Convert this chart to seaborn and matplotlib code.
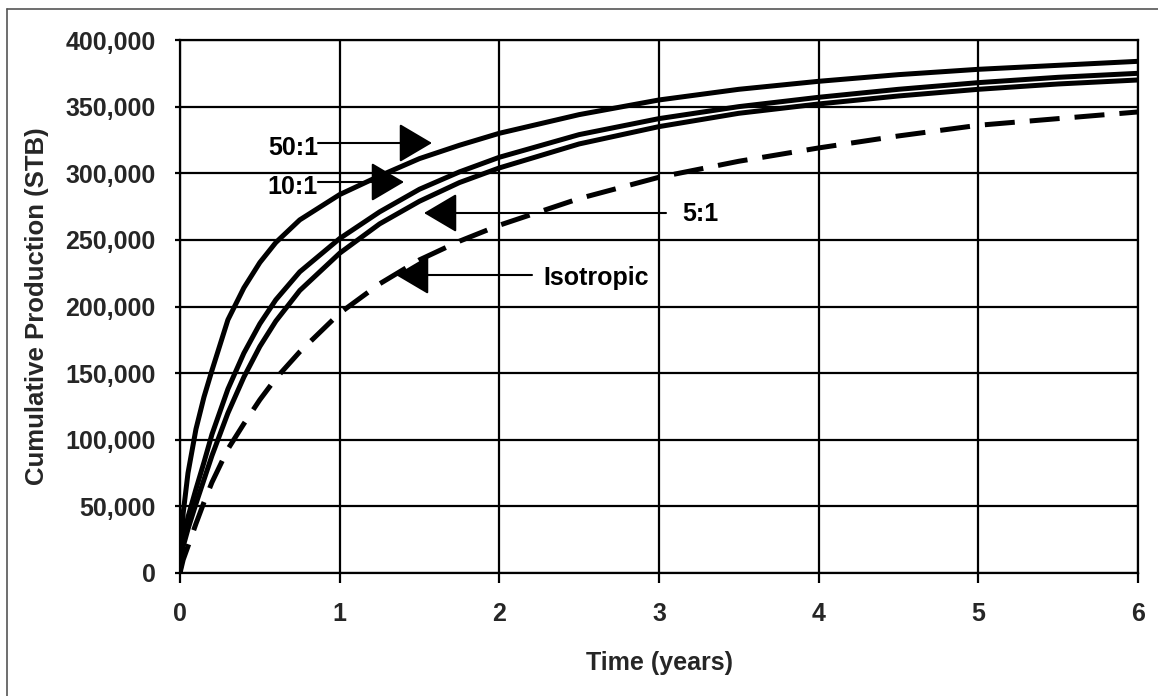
import numpy as np
import pandas as pd
import matplotlib
matplotlib.use("Agg")
import matplotlib.pyplot as plt
from matplotlib.lines import Line2D
from matplotlib.ticker import FuncFormatter
import seaborn as sns

# ---- data ----
time_years = [0, 0.02, 0.05, 0.1, 0.15, 0.2, 0.3, 0.4, 0.5, 0.6, 0.75, 1.0, 1.25, 1.5, 1.75,
              2.0, 2.5, 3.0, 3.5, 4.0, 4.5, 5.0, 5.5, 6.0]
prod_50_1 = [0, 45000, 75000, 108000, 132000, 152000, 190000, 214000, 233000, 248000, 265000, 284000,
             298000, 311000, 321000, 330000, 344000, 355000, 363000, 369000, 374000, 378000, 381000, 384000]
prod_10_1 = [0, 25000, 42000, 63000, 83000, 104000, 138000, 165000, 187000, 205000, 226000, 251000,
             271000, 288000, 301000, 312000, 329000, 341000, 350000, 357000, 363000, 368000, 372000, 375000]
prod_5_1 = [0, 20000, 33000, 52000, 70000, 88000, 120000, 147000, 170000, 189000, 212000, 240000,
            262000, 279000, 293000, 304000, 322000, 335000, 345000, 352000, 358000, 363000, 367000, 370000]
prod_iso = [0, 10000, 20000, 37000, 53000, 68000, 93000, 112000, 130000, 146000, 166000, 195000,
            217000, 235000, 249000, 261000, 281000, 297000, 309000, 319000, 328000, 336000, 341000, 346000]
series_names = ["50:1", "10:1", "5:1", "Isotropic"]
x_ticks = [0, 1, 2, 3, 4, 5, 6]
y_ticks = [0, 50000, 100000, 150000, 200000, 250000, 300000, 350000, 400000]

rows = []
for name, vals in zip(series_names, [prod_50_1, prod_10_1, prod_5_1, prod_iso]):
    for t, v in zip(time_years, vals):
        rows.append({"Time": t, "Production": v, "Series": name})
df = pd.DataFrame(rows)

sns.set_style("white")
plt.rcParams["font.family"] = ["Liberation Sans", "DejaVu Sans"]
plt.rcParams["font.weight"] = "bold"

W, H = 1158, 696
fig = plt.figure(figsize=(W / 100, H / 100), dpi=100)
ax = fig.add_axes([180 / W, 1 - 573 / H, (1138 - 180) / W, (573 - 40) / H])

sns.lineplot(
    data=df, x="Time", y="Production", hue="Series", style="Series",
    palette={n: "black" for n in series_names},
    dashes={"50:1": "", "10:1": "", "5:1": "", "Isotropic": (6, 3)},
    linewidth=3.6, legend=False, ax=ax, sort=False, estimator=None,
    solid_joinstyle="round",
)

ax.set_xlim(0, 6)
ax.set_ylim(0, 400000)
ax.set_xticks(x_ticks)
ax.set_yticks(y_ticks)
ax.yaxis.set_major_formatter(FuncFormatter(lambda v, p: f"{v:,.0f}"))
ax.grid(True, color="black", linewidth=1.6)
ax.set_axisbelow(True)
for s in ax.spines.values():
    s.set_color("black")
    s.set_linewidth(1.6)

ax.tick_params(axis="x", which="major", direction="out", length=7, width=1.6,
               color="black", pad=14, labelsize=18, bottom=True)
ax.tick_params(axis="y", which="major", direction="out", length=3.6, width=1.6,
               color="black", pad=14, labelsize=18, left=True)
for lab in ax.get_xticklabels() + ax.get_yticklabels():
    lab.set_fontweight("bold")

ax.set_xlabel("Time (years)", fontsize=18, fontweight="bold", labelpad=18)
ax.set_ylabel("Cumulative Production (STB)", fontsize=18.5, fontweight="bold", labelpad=12)

# ---- annotations ----
def px2data(px, py):
    return (px - 180) / (1138 - 180) * 6, (573 - py) / (573 - 40) * 400000

arrow_style = "-|>,head_length=1.05,head_width=0.62"
ann = [
    # label, text anchor px, ha, arrow start px, arrow tip px
    ("50:1", (318, 148), "right", (318, 143), (432, 143)),
    ("10:1", (318, 187), "right", (318, 182), (404, 182)),
    ("5:1", (682, 214), "left", (666, 213), (424, 213)),
    ("Isotropic", (543, 278), "left", (532, 275), (396, 275)),
]
for label, tpos, ha, start, tip in ann:
    ax.text(*px2data(*tpos), label, ha=ha, va="center", fontsize=18,
            fontweight="bold", color="black")
    ax.annotate("", xy=px2data(*tip), xytext=px2data(*start),
                arrowprops=dict(arrowstyle=arrow_style, color="black", lw=1.5,
                                shrinkA=0, shrinkB=0, mutation_scale=20))

# ---- outer frame (top and left only, as in the scan) ----
fig.add_artist(Line2D([7 / W, 1], [1 - 9 / H, 1 - 9 / H], color="#555555", lw=1.2))
fig.add_artist(Line2D([7 / W, 7 / W], [0, 1 - 9 / H], color="#555555", lw=1.2))

fig.savefig("out.png", dpi=100, facecolor="white")
